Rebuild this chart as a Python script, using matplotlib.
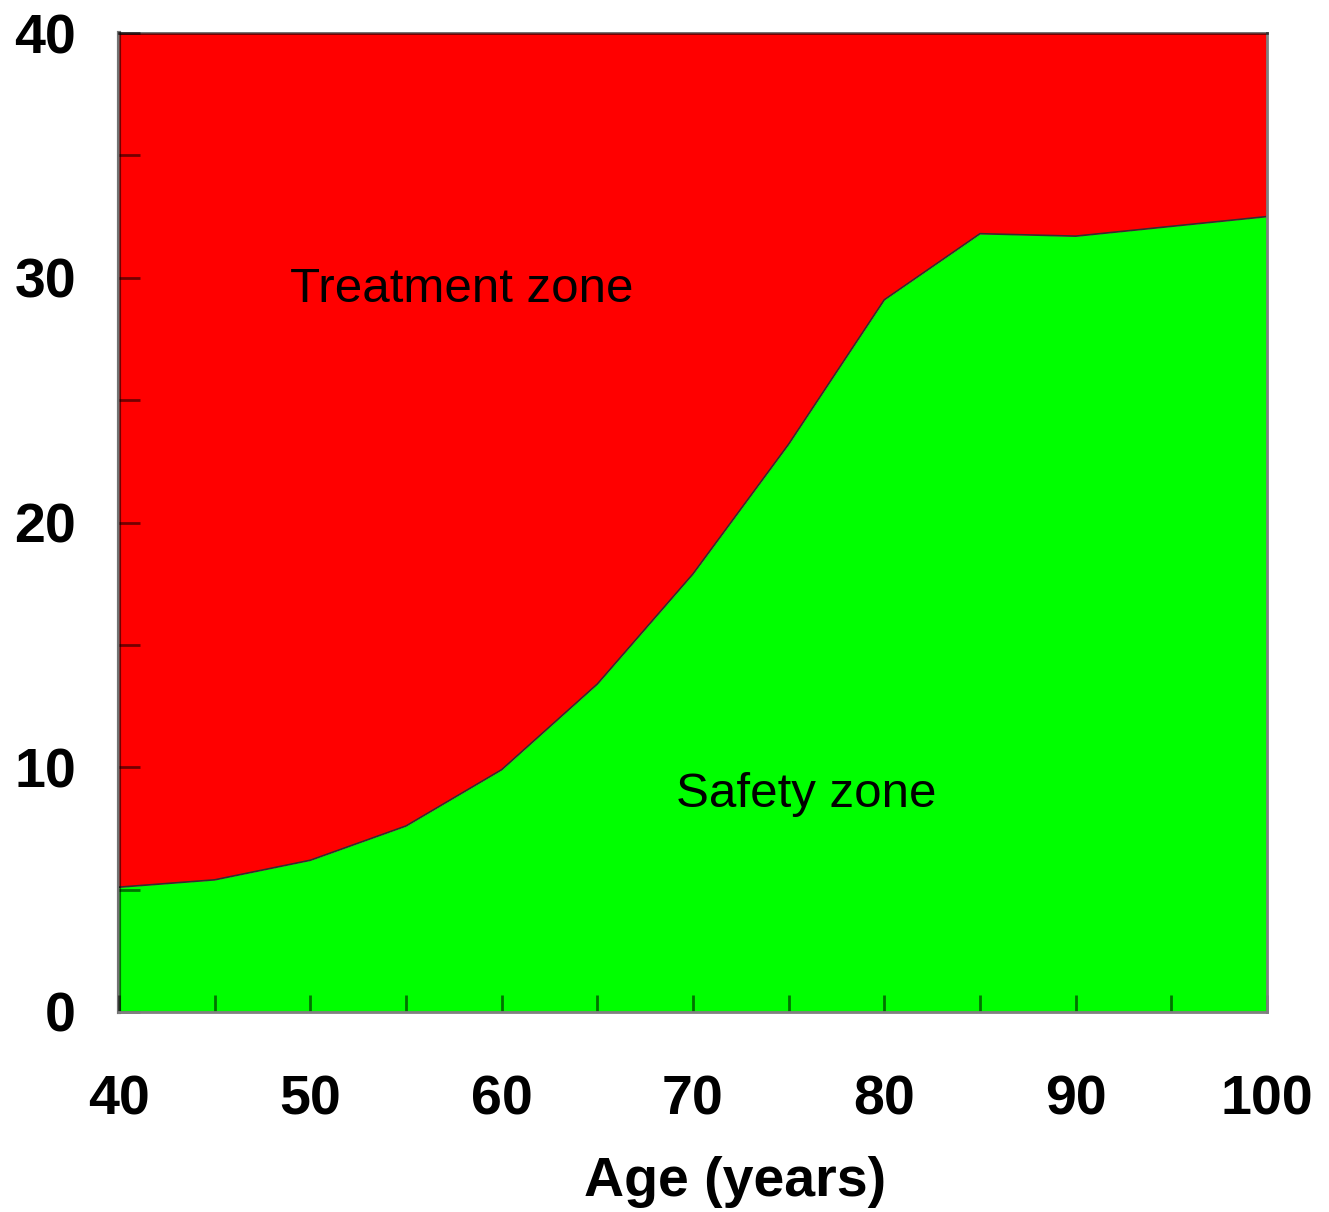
import numpy as np
import matplotlib.pyplot as plt

# boundary between treatment and safety zones
age = [40, 45, 50, 55, 60, 65, 70, 75, 80, 85, 90, 95, 100]
limit = [5.1, 5.4, 6.2, 7.6, 9.9, 13.4, 17.9, 23.2, 29.1, 31.8, 31.7, 32.1, 32.5]
xticks = [40, 50, 60, 70, 80, 90, 100]
yticks = [0, 10, 20, 30, 40]

plt.rcParams['font.family'] = ['Liberation Sans', 'DejaVu Sans']

fig = plt.figure(figsize=(13.29, 12.12), dpi=100)
ax = fig.add_axes([119/1329, 1-1012/1212, (1267-119)/1329, (1012-33)/1212])

ax.fill_between(age, 0, limit, color='#00ff00', lw=0)
ax.fill_between(age, limit, 40, color='#ff0000', lw=0)
ax.plot(age, limit, color='#303030', lw=1.2)

ax.set_xlim(40, 100)
ax.set_ylim(0, 40)

ax.set_xticks(xticks)
ax.set_xticklabels([str(t) for t in xticks], fontsize=40, fontweight='bold')
ax.set_yticks(yticks)
ax.set_yticklabels([str(t) for t in yticks], fontsize=40, fontweight='bold')
ax.set_xticks(np.arange(45, 100, 10), minor=True)
ax.set_yticks(np.arange(5, 40, 10), minor=True)
ax.tick_params(which='both', direction='in', length=12, width=2, color=(0, 0, 0, 0.55))
ax.tick_params(which='both', axis='y', length=15)
ax.tick_params(which='major', axis='x', pad=45)
ax.tick_params(which='major', axis='y', pad=31)

for s in ax.spines.values():
    s.set_color('#808080')
    s.set_linewidth(2)
ax.spines['left'].set_color((0, 0, 0, 0.55))
ax.spines['left'].set_linewidth(3)
ax.spines['top'].set_color((0, 0, 0, 0.6))

ax.text(57.9, 29.5, 'Treatment zone', fontsize=35.5, ha='center', va='center')
ax.text(75.9, 8.9, 'Safety zone', fontsize=35.5, ha='center', va='center')

fig.text(735/1329, 1-1182/1212, 'Age (years)', fontsize=40, fontweight='bold',
         ha='center', va='center')

fig.savefig('out.png', dpi=100)
